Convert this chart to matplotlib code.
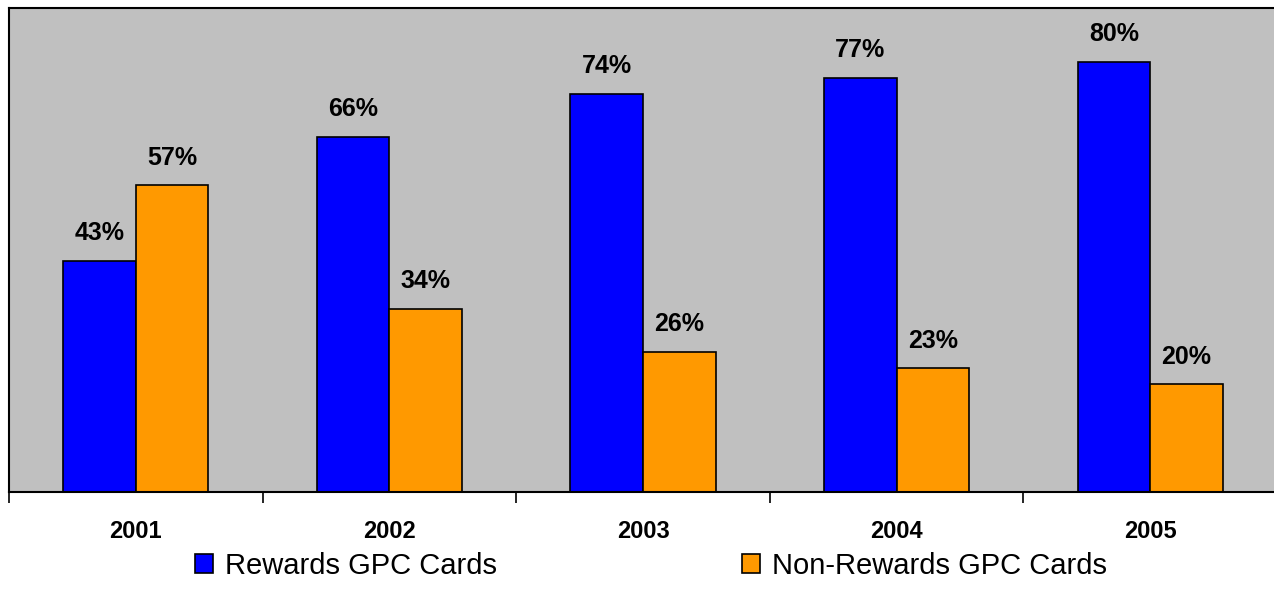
import matplotlib
matplotlib.use("Agg")
import matplotlib.pyplot as plt
import numpy as np

years = ["2001", "2002", "2003", "2004", "2005"]
rewards = [43, 66, 74, 77, 80]
non_rewards = [57, 34, 26, 23, 20]
series_names = ["Rewards GPC Cards", "Non-Rewards GPC Cards"]

plt.rcParams['font.family'] = ['Liberation Sans', 'DejaVu Sans']

fig = plt.figure(figsize=(12.74, 6.04), dpi=100)
ax = fig.add_axes([9/1274, 1 - 492/604, 1268/1274, 484/604])
ax.set_facecolor('#C0C0C0')

x = np.arange(len(years))
w = 0.286
b1 = ax.bar(x - w/2, rewards, w, color='#0000FF', edgecolor='black', linewidth=1.2, label=series_names[0])
b2 = ax.bar(x + w/2, non_rewards, w, color='#FF9900', edgecolor='black', linewidth=1.2, label=series_names[1])

for bars, vals in ((b1, rewards), (b2, non_rewards)):
    for r, v in zip(bars, vals):
        ax.annotate(f"{v}%", (r.get_x() + r.get_width()/2, v), xytext=(0, 20),
                    textcoords='offset points', ha='center', va='center',
                    fontsize=18, fontweight='bold')

ax.set_xlim(-0.5, len(years) - 0.5)
ax.set_ylim(0, 90)
ax.set_yticks([])
ax.set_xticks(np.arange(len(years) + 1) - 0.5)
ax.set_xticklabels([])
ax.set_xticks(x, minor=True)
ax.set_xticklabels(years, minor=True, fontsize=17, fontweight='bold')
ax.tick_params(axis='x', which='major', length=8, width=1.2, direction='out', color='black')
ax.tick_params(axis='x', which='minor', length=0, pad=20)
for s in ['left', 'top', 'bottom']:
    ax.spines[s].set_linewidth(1.5)
    ax.spines[s].set_color('black')
ax.spines['right'].set_visible(False)

leg = fig.legend(handles=[b1, b2], labels=series_names, loc='center',
                 bbox_to_anchor=(0.5 + 14/1274, 1 - 566/604),
                 ncol=2, frameon=False, fontsize=21, handlelength=0.62, handleheight=0.62,
                 handletextpad=0.4, columnspacing=8.4)

fig.savefig("out.png", dpi=100)
